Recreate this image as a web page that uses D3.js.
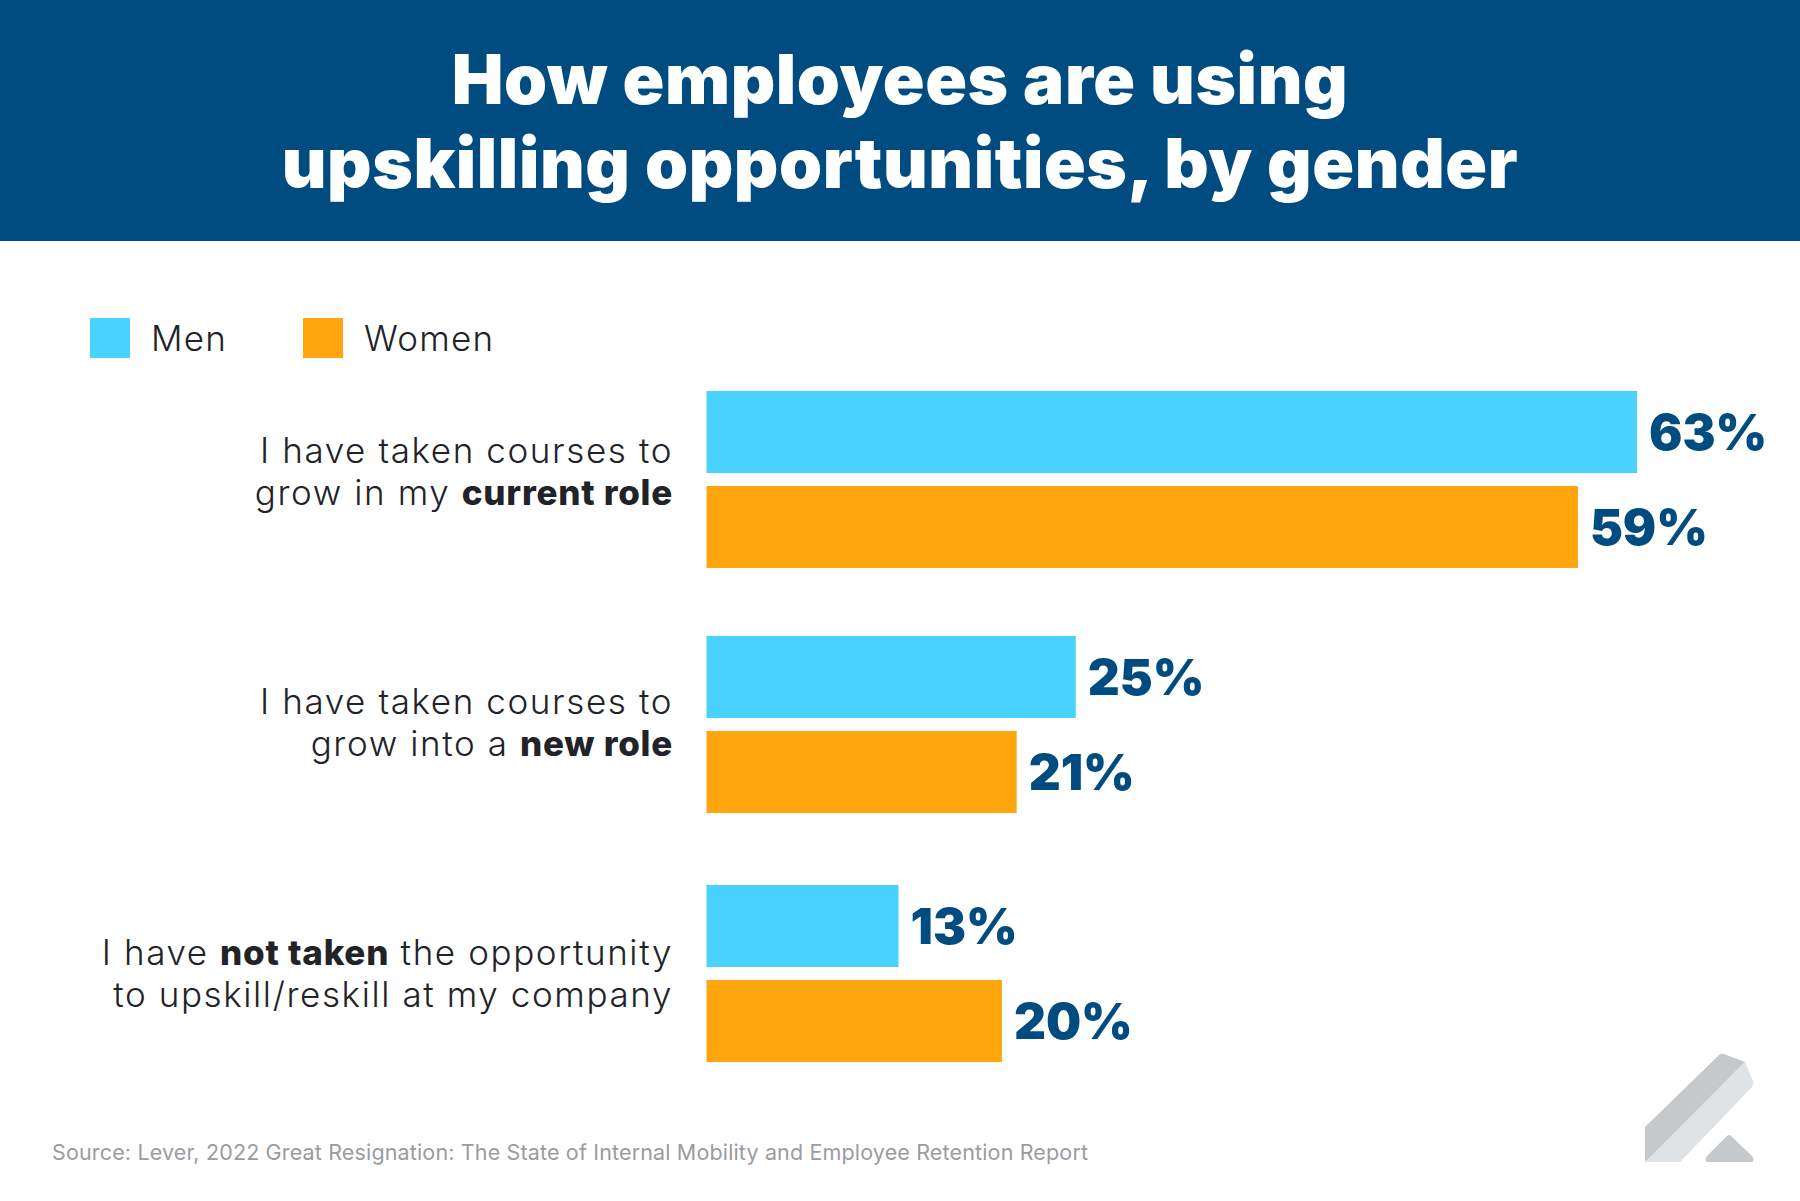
<!DOCTYPE html>
<html>
<head>
<meta charset="utf-8">
<script src="https://cdn.jsdelivr.net/npm/d3@7"></script>
<style>
  html, body { margin: 0; padding: 0; background: #fff; }
  text { font-family: Inter, "Open Sans", sans-serif; }
</style>
</head>
<body>
<svg id="chart" width="1800" height="1201"></svg>
<script>
// chart data
var categories = ["current", "new", "not"];
var seriesNames = ["Men", "Women"];
var men = [63, 25, 13];
var women = [59, 21, 20];
var seriesColors = ["#4ad2ff", "#ffa50d"];
var titleLines = ["How employees are using", "upskilling opportunities, by gender"];
var sourceText = "Source: Lever, 2022 Great Resignation: The State of Internal Mobility and Employee Retention Report";

// each label line is a list of [text, isBold] runs
var categoryLabels = [
    [[["I have taken courses to", false]], [["grow in my ", false], ["current role", true]]],
    [[["I have taken courses to", false]], [["grow into a ", false], ["new role", true]]],
    [[["I have ", false], ["not taken", true], [" the opportunity", false]], [["to upskill/reskill at my company", false]]]
];

var svg = d3.select("#chart");
var blue = "#004c80";
var ink = "#222328";

// header band and title
svg.append("rect").attr("width", 1800).attr("height", 241).attr("fill", blue);
svg.selectAll(".title").data(titleLines).enter().append("text")
    .attr("class", "title")
    .attr("x", 900)
    .attr("y", (d, i) => 104 + i * 84)
    .attr("text-anchor", "middle")
    .attr("font-size", 69)
    .attr("font-weight", 900)
    .attr("letter-spacing", 0.6)
    .attr("fill", "#fff")
    .text(d => d);

// scales
var x = d3.scaleLinear().domain([0, 63]).range([706.5, 1637]);
// the groups in the picture are not quite evenly spaced
var y = d3.scaleOrdinal().domain(categories).range([391, 636, 885]);
var inner = d3.scaleBand().domain(seriesNames).range([0, 177]).paddingInner(13 / 95);
var labelY = d3.scalePoint().domain(categories).range([463, 965]);
var values = [men, women];

// bars and value labels
seriesNames.forEach((name, s) => {
    var g = svg.append("g").attr("class", "series-" + name);
    g.selectAll("rect").data(values[s]).enter().append("rect")
        .attr("x", x(0))
        .attr("y", (d, i) => y(categories[i]) + inner(name))
        .attr("width", d => x(d) - x(0))
        .attr("height", inner.bandwidth())
        .attr("fill", seriesColors[s]);
    g.selectAll("text").data(values[s]).enter().append("text")
        .attr("x", d => x(d) + 12)
        .attr("y", (d, i) => y(categories[i]) + inner(name) + inner.bandwidth() / 2 + 18)
        .attr("font-size", 49.5)
        .attr("font-weight", 900)
        .attr("fill", blue)
        .text(d => d + "%");
});

// category labels, right aligned at the bars
categoryLabels.forEach((lines, c) => {
    lines.forEach((runs, l) => {
        var t = svg.append("text")
            .attr("class", "cat-label")
            .attr("x", 673)
            .attr("y", labelY(categories[c]) + l * 42)
            .attr("text-anchor", "end")
            .attr("font-size", 35)
            .attr("fill", ink);
        runs.forEach(r => {
            t.append("tspan")
                .attr("font-weight", r[1] ? 800 : 300)
                .attr("letter-spacing", r[1] ? 0.75 : 1.6)
                .text(r[0]);
        });
    });
});

// legend
var legendX = d3.scaleOrdinal().domain(seriesNames).range([90, 303]);
seriesNames.forEach((name, s) => {
    svg.append("rect")
        .attr("x", legendX(name)).attr("y", 318)
        .attr("width", 40).attr("height", 40)
        .attr("fill", seriesColors[s]);
    svg.append("text")
        .attr("x", legendX(name) + 61).attr("y", 351)
        .attr("font-size", 35)
        .attr("font-weight", 300)
        .attr("letter-spacing", 1.2)
        .attr("fill", ink)
        .text(name);
});

// source line
svg.append("text")
    .attr("x", 52).attr("y", 1160)
    .attr("font-size", 21.5)
    .attr("font-weight", 400)
    .attr("letter-spacing", 0.15)
    .attr("fill", "#9a9c9f")
    .text(sourceText);

// logo in the corner
var logo = svg.append("g").attr("class", "logo");
logo.append("path").attr("fill", "#c5c9cc")
    .attr("d", "M1645 1127 L1645 1160 Q1645 1162 1647 1161 L1745 1062 L1724 1054 Q1721 1053 1719 1055 Z");
logo.append("path").attr("fill", "#dfe3e5")
    .attr("d", "M1645 1162 L1680 1162 L1752 1087 Q1754 1084 1753 1081 L1745 1062 Z");
logo.append("path").attr("fill", "#c5c9cc")
    .attr("d", "M1707 1162 Q1704 1160 1707 1156 L1727 1136 Q1729 1134 1731 1136 L1752 1156 Q1755 1160 1752 1162 Z");
</script>
</body>
</html>
